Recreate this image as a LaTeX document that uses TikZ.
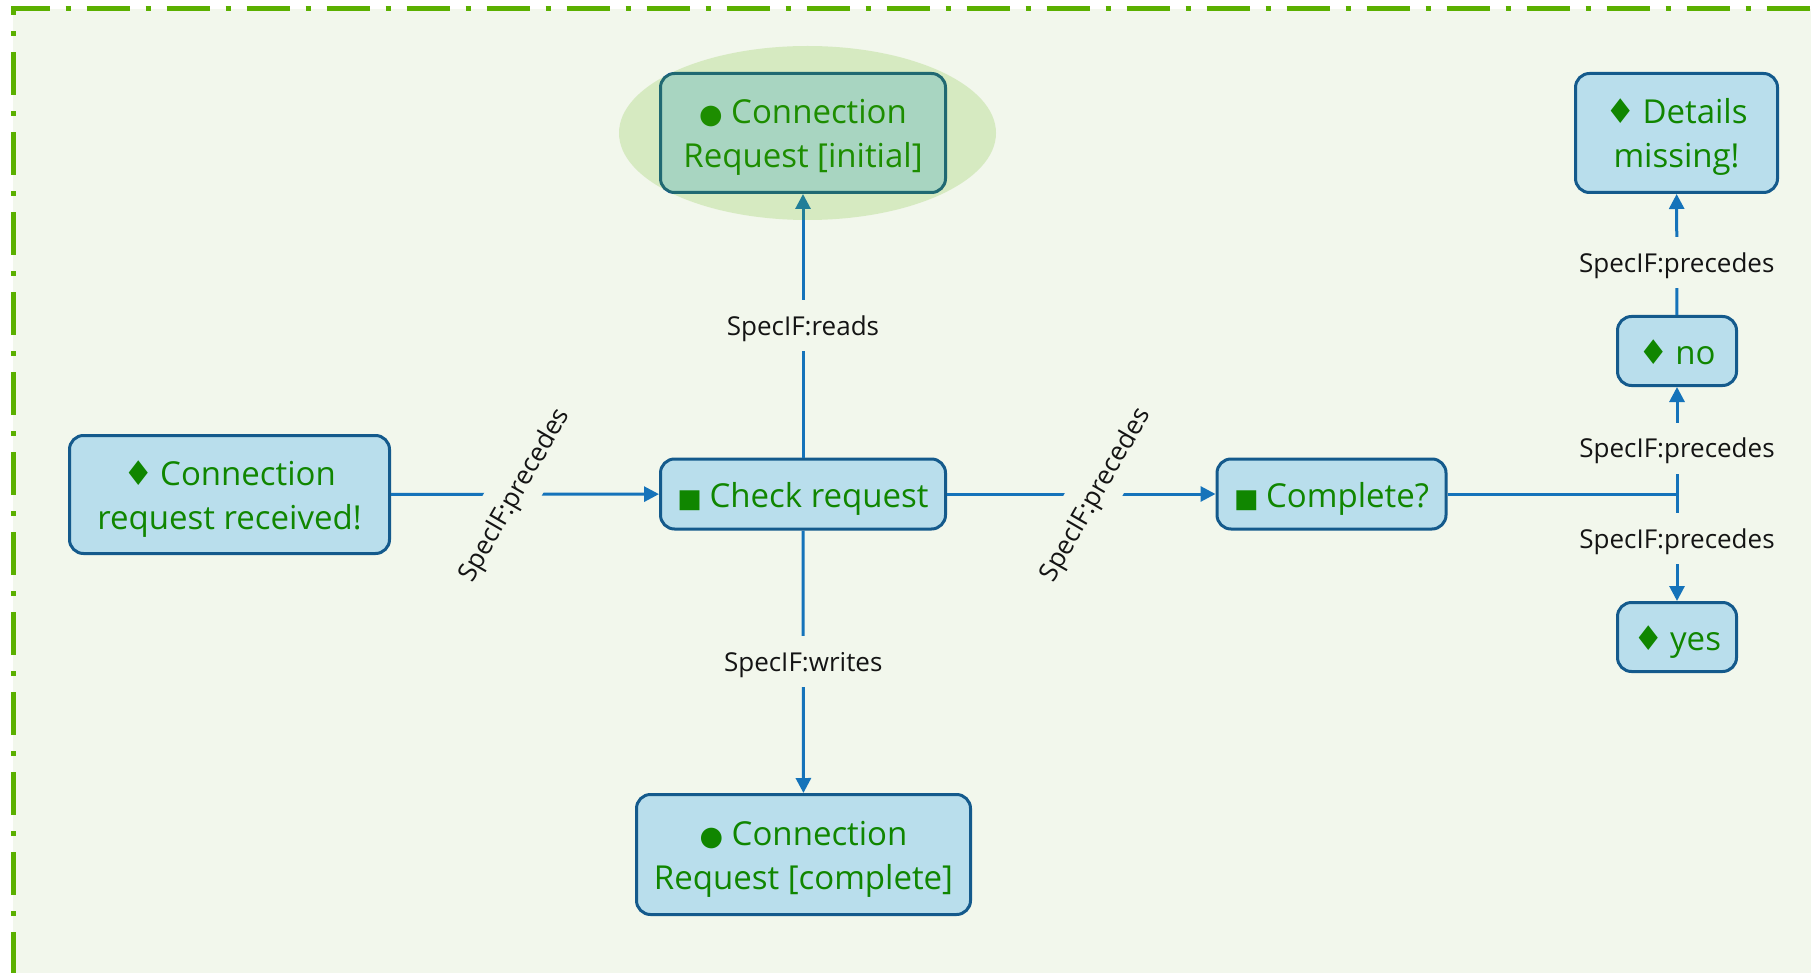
\documentclass[tikz,border=0pt]{standalone}
\usepackage{fontspec}
\setmainfont{Open Sans}
\newfontfamily\symfamily{DejaVu Sans}
\usetikzlibrary{arrows.meta}

\definecolor{canvas}{RGB}{242,247,236}
\definecolor{frame}{RGB}{91,176,0}
\definecolor{boxfill}{RGB}{185,222,236}
\definecolor{boxline}{RGB}{20,90,140}
\definecolor{nodetext}{RGB}{16,134,0}
\definecolor{relline}{RGB}{21,115,186}
\definecolor{labeltext}{RGB}{20,20,20}

% small glyphs marking the kind of each element
\newcommand\evt{{\symfamily\fontsize{34}{34}\selectfont ♦}\hspace{-2pt}}
\newcommand\obj{{\symfamily\fontsize{27}{27}\selectfont ●}}
\newcommand\act{{\symfamily\fontsize{26}{26}\selectfont ■}\hspace{-1pt}}

\tikzset{
  itembox/.style={draw=boxline, fill=boxfill, line width=3pt,
    rounded corners=14pt, align=center, text=nodetext, inner sep=0pt,
    font=\fontsize{33}{44}\selectfont},
  oneline/.style={text height=34pt, text depth=8pt},
  twolines/.style={text height=80pt, text depth=10pt},
  rel/.style={draw=relline, line width=3pt,
    -{Triangle[length=15pt,width=15pt]}},
  lbl/.style={fill=canvas, text=labeltext, inner xsep=4pt, inner ysep=12.8pt,
    text height=22pt, text depth=3.4pt, font=\fontsize{26}{30}\selectfont},
}

\begin{document}
\begin{tikzpicture}[x=1pt,y=-1pt]
  \useasboundingbox (0,0) rectangle (1811,973);
  \fill[white] (0,0) rectangle (1811,973);
  \fill[canvas] (13,9) rectangle (1811,973);
  % dash-dotted frame of the diagram
  \draw[frame, line width=5pt, dash pattern=on 43pt off 16pt on 5pt off 16pt,
        dash phase=55pt] (13,1000) -- (13,8.5) -- (1830,8.5);

  % elements
  \node[itembox, twolines, minimum width=320pt, minimum height=118pt] (received)
    at (229.5,494.5) {\evt{} Connection\\request received!};
  \node[itembox, oneline, minimum width=285pt, minimum height=70pt] (check)
    at (803,494) {\act{} Check request};
  \node[itembox, oneline, minimum width=229pt, minimum height=70pt] (complete)
    at (1331.5,494) {\act{} Complete?};
  \node[itembox, twolines, minimum width=285pt, minimum height=119pt] (initial)
    at (803,133) {\obj{} Connection\\Request [initial]};
  \node[itembox, twolines, minimum width=334pt, minimum height=120pt] (full)
    at (803.5,854.5) {\obj{} Connection\\Request [complete]};
  \node[itembox, twolines, minimum width=202pt, minimum height=119pt] (details)
    at (1676.5,133) {\evt{} Details\\missing!};
  \node[itembox, oneline, minimum width=119pt, minimum height=69pt] (no)
    at (1677,351) {\evt{} no};
  \node[itembox, oneline, minimum width=119pt, minimum height=69pt] (yes)
    at (1677,637) {\evt{} yes};

  % relations
  \draw[rel] (received) -- (check)
    node[lbl, pos=0.455, rotate=60] {SpecIF:precedes};
  \draw[rel] (check) -- (complete)
    node[lbl, pos=0.547, rotate=60] {SpecIF:precedes};
  \draw[rel] (check) -- (initial) node[lbl, pos=0.5] {SpecIF:reads};
  \draw[rel] (check) -- (full) node[lbl, pos=0.5] {SpecIF:writes};
  \draw[rel] (complete.east) -| (no.south)
    node[lbl, pos=0.713] {SpecIF:precedes};
  \draw[rel] (complete.east) -| (yes.north)
    node[lbl, pos=0.709] {SpecIF:precedes};
  \draw[rel] (no) -- (details) node[lbl, pos=0.43] {SpecIF:precedes};

  % highlight over the initial request
  \fill[frame, opacity=0.18] (807.5,133) ellipse [x radius=188.5pt, y radius=87pt];
\end{tikzpicture}
\end{document}
